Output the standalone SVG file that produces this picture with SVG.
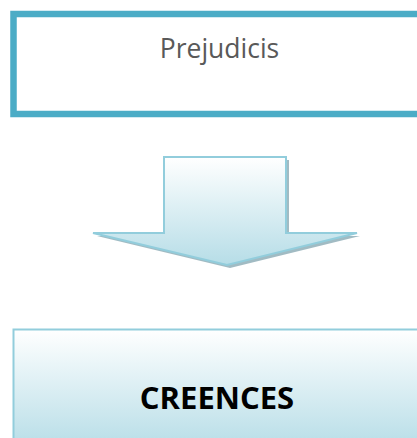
<svg xmlns="http://www.w3.org/2000/svg" width="417" height="438" viewBox="0 0 417 438">
<defs>
<linearGradient id="g" x1="0" y1="0" x2="0" y2="1">
<stop offset="0" stop-color="#ffffff"/>
<stop offset="1" stop-color="#b6dde7"/>
</linearGradient>
<style>
.lbl{font-family:"Open Sans","Liberation Sans",sans-serif;font-size:26.5px;fill:#595959;text-anchor:middle}
.bold{font-family:"Open Sans","Liberation Sans",sans-serif;font-size:31px;font-weight:bold;fill:#000;text-anchor:middle}
</style>
</defs>
<rect width="417" height="438" fill="#fff"/>
<g id="prejudicis">
<rect x="13.5" y="14" width="420" height="100" fill="#fff" stroke="#4bacc6" stroke-width="6.5"/>
<text class="lbl" x="219.5" y="58">Prejudicis</text>
</g>
<g id="connectors">
<path d="M167 160 H289 V236 H360 L230 268 L97 236 H167 Z" fill="#8aaab4" opacity="0.8"/>
<path d="M164 157 H286 V233 H357 L227 265 L93 233 H164 Z" fill="url(#g)" stroke="#92cddc" stroke-width="2"/>
</g>
<g id="creences">
<rect x="13.5" y="329.5" width="420" height="120" fill="url(#g)" stroke="#92cddc" stroke-width="2"/>
<text class="bold" x="217" y="408.5">CREENCES</text>
</g>
</svg>
